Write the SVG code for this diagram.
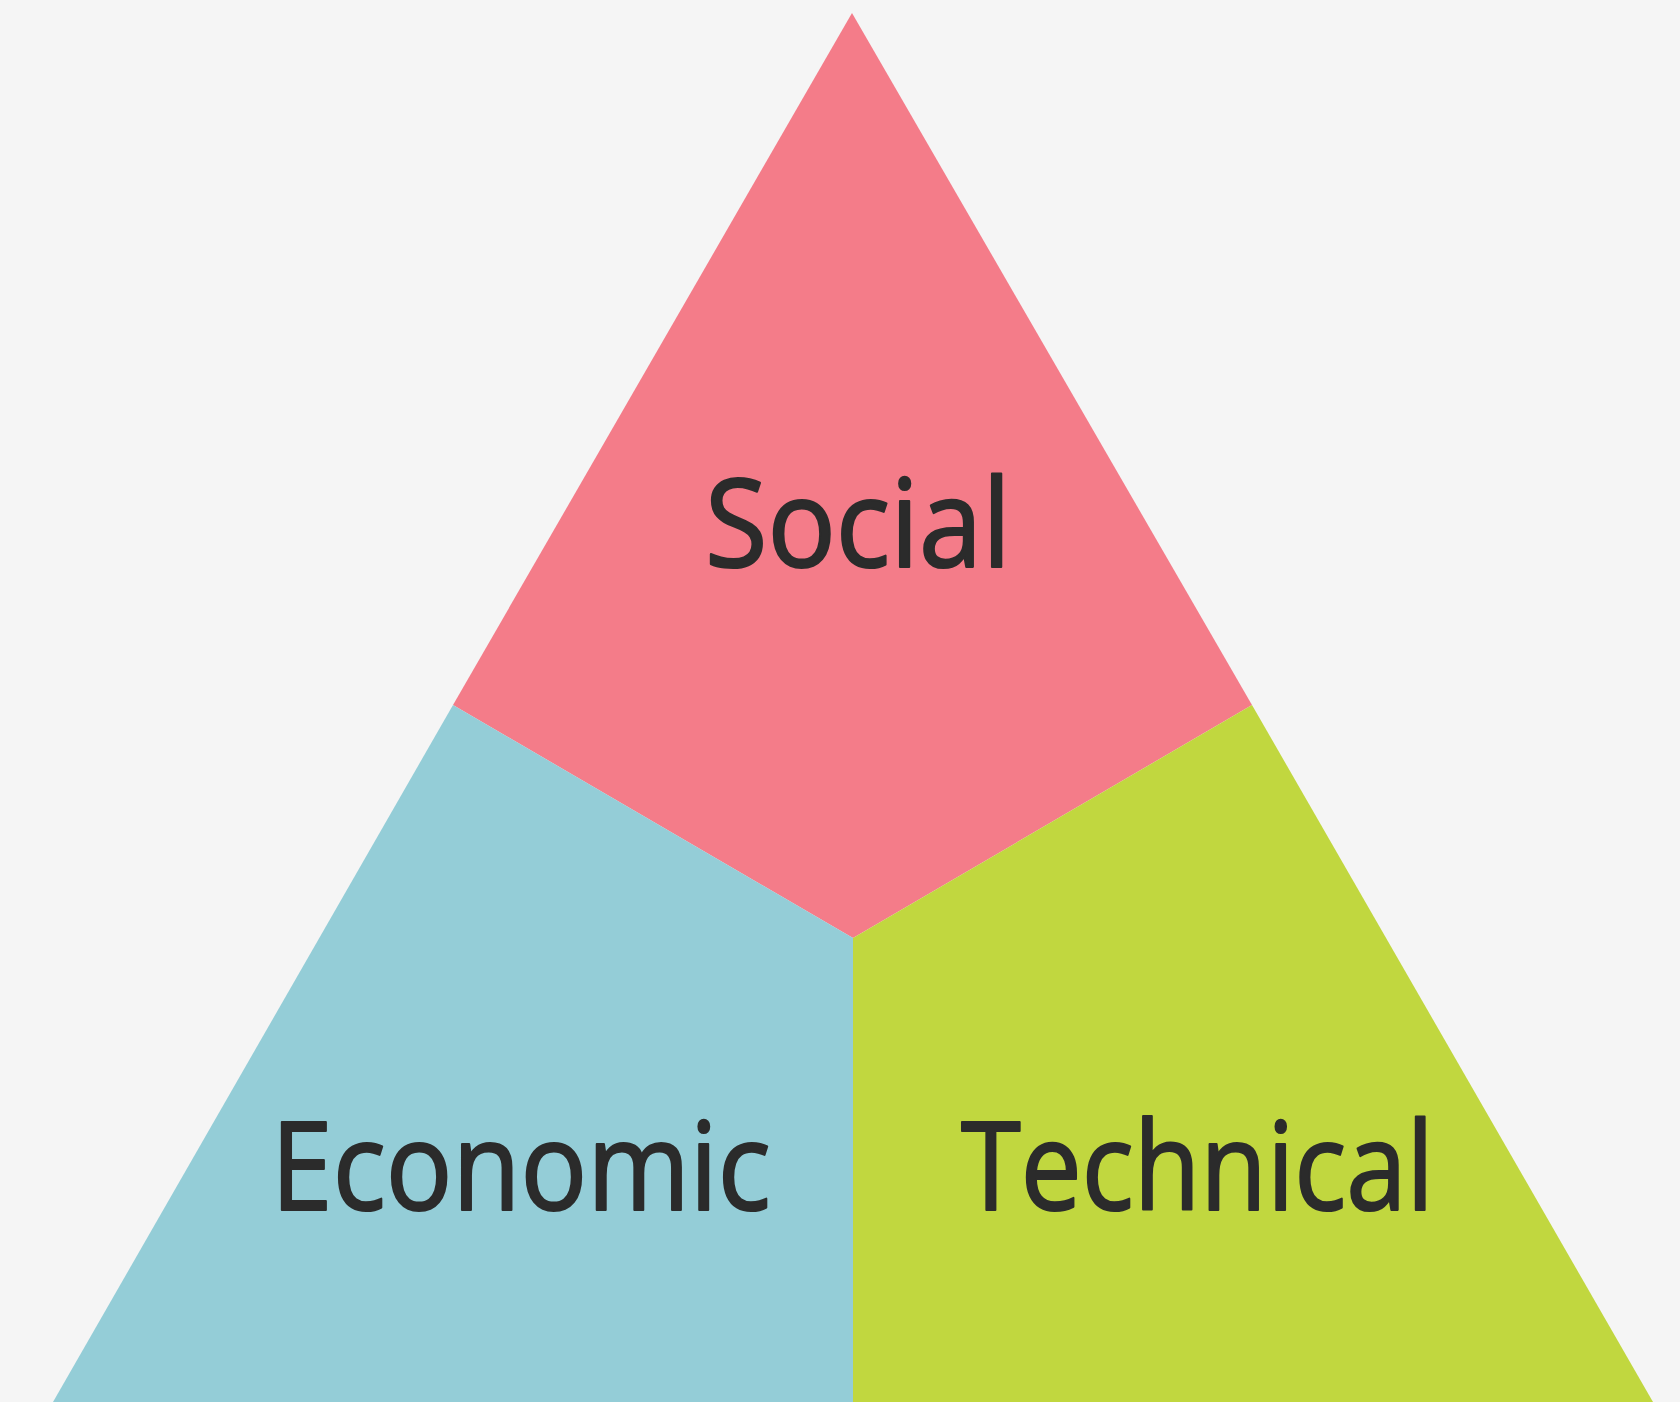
<svg xmlns="http://www.w3.org/2000/svg" width="1680" height="1402" viewBox="0 0 1680 1402">
  <style>
    .lbl { font-family: "Open Sans", "Noto Sans", sans-serif; font-size: 123px; font-weight: 400; fill: #2b2b2b; stroke: #2b2b2b; stroke-width: 2.2; stroke-linejoin: round; }
  </style>
  <rect width="1680" height="1402" fill="#f5f5f5"/>
  <!-- three sectors of the triangle -->
  <g id="social">
    <polygon points="852,13 1252,705 853,938 453,705" fill="#f47c89"/>
    <text class="lbl" x="705" y="567" textLength="306" lengthAdjust="spacingAndGlyphs">Social</text>
  </g>
  <g id="economic">
    <polygon points="453,705 853,938 853,1402 53,1402" fill="#94cdd7"/>
    <text class="lbl" x="271" y="1210" textLength="500" lengthAdjust="spacingAndGlyphs">Economic</text>
  </g>
  <g id="technical">
    <polygon points="1252,705 1653,1402 853,1402 853,938" fill="#c1d73f"/>
    <text class="lbl" x="961" y="1210" textLength="473" lengthAdjust="spacingAndGlyphs">Technical</text>
  </g>
  <g id="connectors"/>
</svg>
